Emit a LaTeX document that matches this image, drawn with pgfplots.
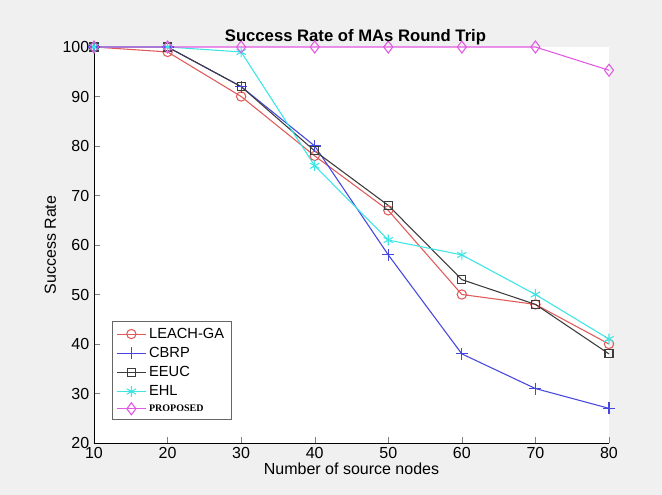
\documentclass[border=0pt]{standalone}
\usepackage{pgfplots}
\pgfplotsset{compat=1.18}
\usepackage{fontspec}
\setmainfont{Liberation Sans}
\newfontfamily\serifp{Liberation Serif}
\definecolor{cLeach}{RGB}{225,90,90}
\definecolor{cCbrp}{RGB}{70,70,225}
\definecolor{cEeuc}{RGB}{60,60,60}
\definecolor{cEhl}{RGB}{60,230,230}
\definecolor{cProp}{RGB}{225,90,225}
\definecolor{figbg}{RGB}{240,240,240}
\begin{document}
\begin{tikzpicture}
\path[fill=figbg] (0,0) rectangle (496.5pt,371.25pt);
\begin{axis}[
  at={(70.5pt,39pt)}, anchor=south west,
  scale only axis, width=386.25pt, height=297pt,
  xmin=10, xmax=80, ymin=20, ymax=100,
  xtick={10,20,...,80}, ytick={20,30,...,100},
  axis x line*=bottom, axis y line*=left,
  tick align=inside,
  axis background/.style={fill=white},
  tick label style={font=\fontsize{12}{14}\selectfont},
  /pgf/number format/assume math mode=true,
  xlabel={Number of source nodes}, ylabel={Success Rate},
  label style={font=\fontsize{12}{14}\selectfont},
  xlabel style={yshift=4pt},
  ylabel style={yshift=-2pt},
  title={\textbf{Success Rate of MAs Round Trip}},
  title style={font=\fontsize{12.5}{14}\selectfont, yshift=-8pt, xshift=3pt},
  clip=false,
  legend style={at={(0.035,0.058)}, anchor=south west, draw=gray!80!black, font=\fontsize{11}{13}\selectfont, row sep=1.2pt, inner sep=3pt},
  legend image code/.code={\draw[mark repeat=2,mark phase=2] plot coordinates {(0cm,0cm)(0.38cm,0cm)(0.76cm,0cm)};},
  legend cell align=left,
  every axis plot/.append style={line width=0.8pt},
]
\addlegendimage{color=cLeach, mark=o, mark size=3.5pt, line width=0.8pt}
\addlegendentry{LEACH-GA}
\addlegendimage{color=cCbrp, mark=+, mark size=4.5pt, line width=1pt}
\addlegendentry{CBRP}
\addlegendimage{color=cEeuc, mark=square, mark size=3pt, line width=0.8pt}
\addlegendentry{EEUC}
\addlegendimage{color=cEhl, mark=asterisk, mark size=4pt, line width=0.8pt}
\addlegendentry{EHL}
\addlegendimage{color=cProp, mark=diamond, mark size=4.5pt, line width=0.8pt}
\addlegendentry{\serifp\bfseries\fontsize{7.5}{8}\selectfont PROPOSED}
\addplot[forget plot, color=cLeach, mark=o, mark size=3.5pt] coordinates {(10,100)(20,99)(30,90)(40,78)(50,67)(60,50)(70,48)(80,40)};
\addplot[forget plot, color=cCbrp, mark=+, mark size=4.5pt] coordinates {(10,100)(20,100)(30,92)(40,80)(50,58)(60,38)(70,31)(80,27)};
\addplot[forget plot, color=cEeuc, mark=square, mark size=3pt] coordinates {(10,100)(20,100)(30,92)(40,79)(50,68)(60,53)(70,48)(80,38)};
\addplot[forget plot, color=cEhl, mark=asterisk, mark size=4pt] coordinates {(10,100)(20,100)(30,99)(40,76)(50,61)(60,58)(70,50)(80,41)};
\addplot[forget plot, color=cProp, mark=diamond, mark size=4.5pt] coordinates {(10,100)(20,100)(30,100)(40,100)(50,100)(60,100)(70,100)(80,95.3)};
\end{axis}
\end{tikzpicture}
\end{document}
